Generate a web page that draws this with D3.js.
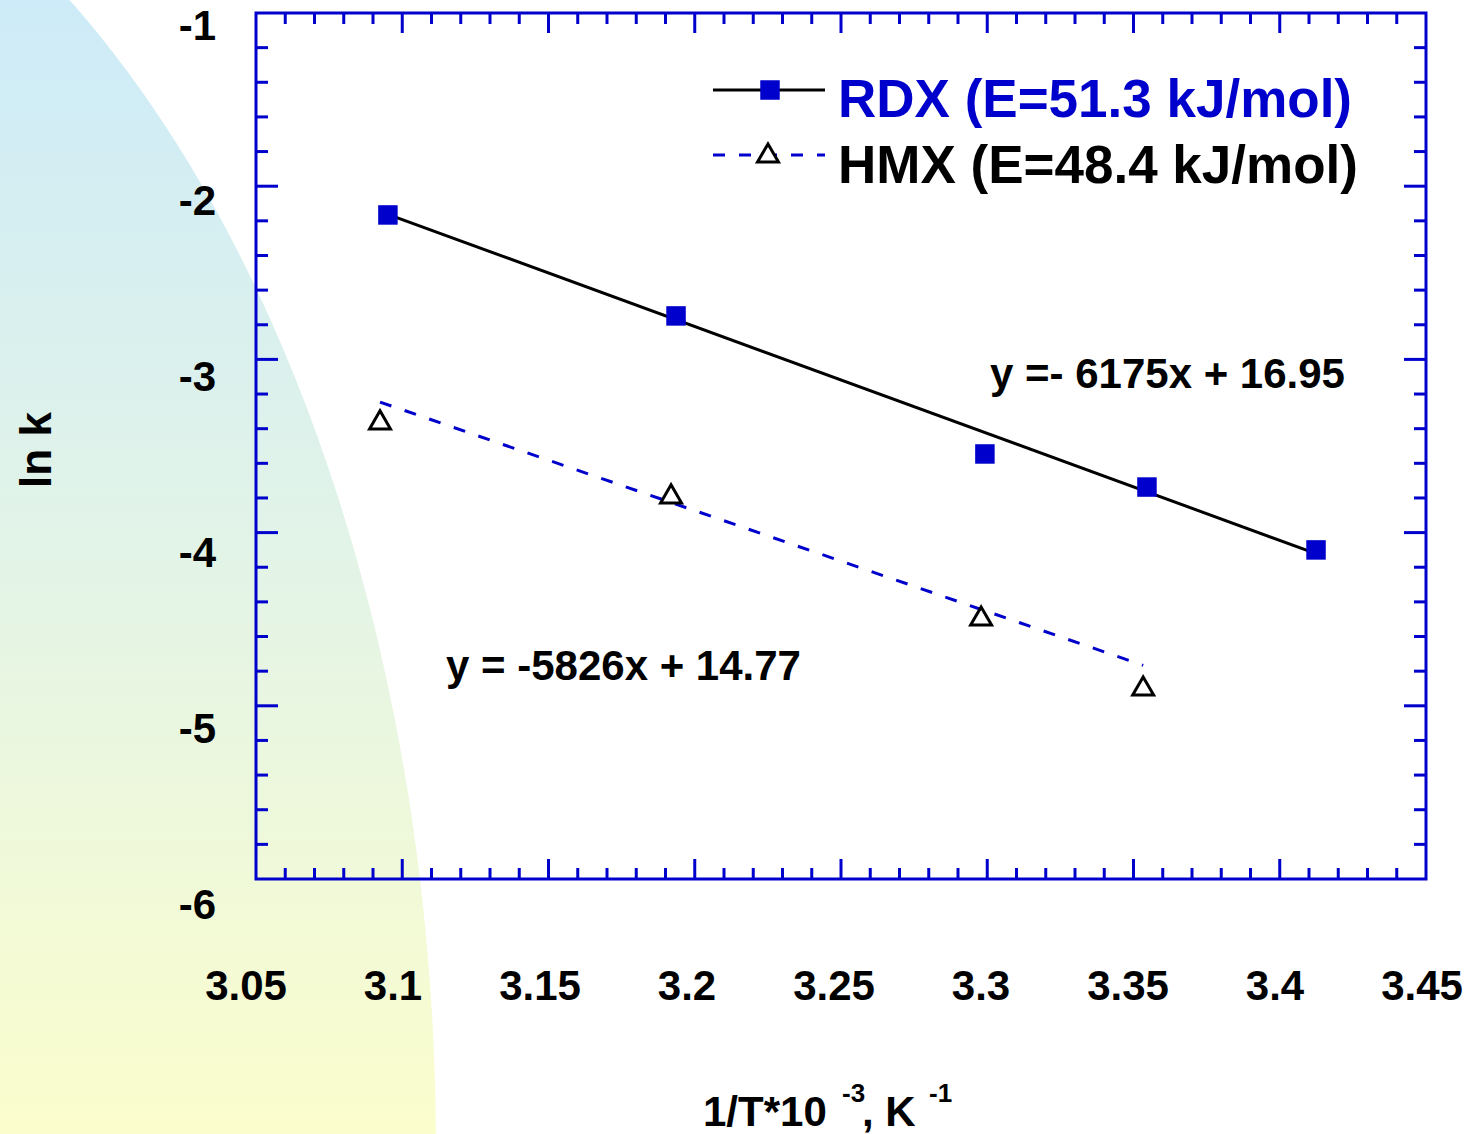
<!DOCTYPE html>
<html>
<head>
<meta charset="utf-8">
<script src="https://cdn.jsdelivr.net/npm/d3@7"></script>
<style>
  body { margin: 0; background: #fff; }
  text { font-family: Arial, "Liberation Sans", sans-serif; font-weight: bold; }
</style>
</head>
<body>
<div id="chart"></div>
<script>
// data (x = 1/T * 10^3)
var rdxX = [3.0951, 3.1936, 3.2992, 3.3546, 3.4124];
var rdxY = [-2.166, -2.749, -3.546, -3.737, -4.100];
var hmxX = [3.0924, 3.1919, 3.2979, 3.3533];
var hmxY = [-3.367, -3.794, -4.499, -4.903];

// linear fits (slope per 1e-3 unit, intercept)
var rdxFit = [-6.175, 16.95];
var hmxFit = [-5.826, 14.77];

var seriesNames = ["RDX (E=51.3 kJ/mol)", "HMX (E=48.4 kJ/mol)"];
var fitLabels = ["y =- 6175x + 16.95", "y = -5826x + 14.77"];

var xTicks = [3.05, 3.1, 3.15, 3.2, 3.25, 3.3, 3.35, 3.4, 3.45];
var yTicks = [-1, -2, -3, -4, -5, -6];

var W = 1468, H = 1134;
var blue = "#0000cc";

var svg = d3.select("#chart").append("svg")
    .attr("width", W)
    .attr("height", H);

// background swoosh
var defs = svg.append("defs");
var grad = defs.append("linearGradient")
    .attr("id", "bg")
    .attr("gradientUnits", "userSpaceOnUse")
    .attr("x1", 0).attr("y1", 0).attr("x2", 0).attr("y2", H);
grad.append("stop").attr("offset", "0%").attr("stop-color", "#cdebf8");
grad.append("stop").attr("offset", "50%").attr("stop-color", "#e3f4e7");
grad.append("stop").attr("offset", "100%").attr("stop-color", "#fbfdcc");

svg.append("ellipse")
    .attr("cx", -400).attr("cy", 1150)
    .attr("rx", 836).attr("ry", 1390)
    .attr("fill", "url(#bg)");

// Scales
var x = d3.scaleLinear().domain([3.05, 3.45]).range([256, 1426]);
var y = d3.scaleLinear().domain([-1, -6]).range([13, 879]);

// tick labels sit slightly off the tick marks in the original
var xLab = d3.scaleLinear().domain([3.05, 3.45]).range([246, 1422]);
var yLab = d3.scaleLinear().domain([-1, -6]).range([25.5, 905]);

var pLeft = x.range()[0], pRight = x.range()[1],
    pTop = y.range()[0], pBottom = y.range()[1];

var minorX = d3.range(0, 41).map(function(i) { return 3.05 + i * 0.01; });
var minorY = d3.range(0, 26).map(function(i) { return -1 - i * 0.2; });

var axes = svg.append("g").attr("class", "axes");

function isMajorX(v) { return Math.abs(Math.round(v * 20) - v * 20) < 1e-6; }
function isMajorY(v) { return Math.abs(Math.round(v) - v) < 1e-6; }

// ticks along bottom and top (inward)
minorX.forEach(function(v) {
    if (Math.abs(v - 3.05) < 1e-6 || Math.abs(v - 3.45) < 1e-6) return;
    var len = isMajorX(v) ? 20 : 11;
    axes.append("line")
        .attr("x1", x(v)).attr("x2", x(v))
        .attr("y1", pBottom).attr("y2", pBottom - len);
    axes.append("line")
        .attr("x1", x(v)).attr("x2", x(v))
        .attr("y1", pTop).attr("y2", pTop + len);
});
// ticks along left and right
minorY.forEach(function(v) {
    if (Math.abs(v + 1) < 1e-6 || Math.abs(v + 6) < 1e-6) return;
    var len = isMajorY(v) ? 22 : 12;
    axes.append("line")
        .attr("x1", pLeft).attr("x2", pLeft + len)
        .attr("y1", y(v)).attr("y2", y(v));
    axes.append("line")
        .attr("x1", pRight).attr("x2", pRight - len)
        .attr("y1", y(v)).attr("y2", y(v));
});
axes.append("rect")
    .attr("x", pLeft).attr("y", pTop)
    .attr("width", pRight - pLeft).attr("height", pBottom - pTop)
    .attr("fill", "none");
axes.selectAll("line, rect")
    .attr("stroke", blue)
    .attr("stroke-width", 3);

// tick labels
svg.append("g").selectAll("text")
    .data(xTicks)
    .enter().append("text")
    .attr("x", function(d) { return xLab(d); })
    .attr("y", 1000)
    .attr("text-anchor", "middle")
    .attr("font-size", 42)
    .attr("fill", "#000")
    .text(function(d) { return d3.format("")(d); });

svg.append("g").selectAll("text")
    .data(yTicks)
    .enter().append("text")
    .attr("x", 216)
    .attr("y", function(d) { return yLab(d) + 14; })
    .attr("text-anchor", "end")
    .attr("font-size", 42)
    .attr("fill", "#000")
    .text(function(d) { return d; });

// axis titles
var xt = svg.append("text")
    .attr("x", 703).attr("y", 1126)
    .attr("font-size", 42)
    .attr("fill", "#000");
xt.append("tspan").text("1/T*10");
xt.append("tspan").attr("x", 842).attr("y", 1102).attr("font-size", 26).text("-3");
xt.append("tspan").attr("x", 862).attr("y", 1126).text(", K");
xt.append("tspan").attr("x", 929).attr("y", 1102).attr("font-size", 26).text("-1");

svg.append("text")
    .attr("transform", "translate(51,450) rotate(-90)")
    .attr("text-anchor", "middle")
    .attr("font-size", 44)
    .attr("fill", "#000")
    .text("ln k");

// fit lines
function fitPoints(xs, fit) {
    var x0 = d3.min(xs), x1 = d3.max(xs);
    return [[x0, fit[0] * x0 + fit[1]], [x1, fit[0] * x1 + fit[1]]];
}
var line = d3.line()
    .x(function(d) { return x(d[0]); })
    .y(function(d) { return y(d[1]); });

svg.append("path")
    .attr("d", line(fitPoints(rdxX, rdxFit)))
    .attr("stroke", "#000")
    .attr("stroke-width", 3)
    .attr("fill", "none");

svg.append("path")
    .attr("d", line(fitPoints(hmxX, hmxFit)))
    .attr("stroke", blue)
    .attr("stroke-width", 3)
    .attr("stroke-dasharray", "12,14")
    .attr("fill", "none");

// markers
var square = d3.symbol().type(d3.symbolSquare).size(380);
var triangle = d3.symbol().type(d3.symbolTriangle).size(190);

svg.append("g").selectAll("path")
    .data(rdxX)
    .enter().append("path")
    .attr("d", square)
    .attr("transform", function(d, i) { return "translate(" + x(d) + "," + y(rdxY[i]) + ")"; })
    .attr("fill", blue);

svg.append("g").selectAll("path")
    .data(hmxX)
    .enter().append("path")
    .attr("d", triangle)
    .attr("transform", function(d, i) { return "translate(" + x(d) + "," + y(hmxY[i]) + ")"; })
    .attr("fill", "none")
    .attr("stroke", "#000")
    .attr("stroke-width", 3);

// fit labels
svg.append("text")
    .attr("x", 990).attr("y", 388)
    .attr("font-size", 42)
    .attr("fill", "#000")
    .text(fitLabels[0]);
svg.append("text")
    .attr("x", 446).attr("y", 680)
    .attr("font-size", 42)
    .attr("fill", "#000")
    .text(fitLabels[1]);

// legend
var legend = svg.append("g");
legend.append("line")
    .attr("x1", 713).attr("x2", 825).attr("y1", 90).attr("y2", 90)
    .attr("stroke", "#000").attr("stroke-width", 3);
legend.append("path")
    .attr("d", square)
    .attr("transform", "translate(770,90)")
    .attr("fill", blue);
legend.append("text")
    .attr("x", 838).attr("y", 117)
    .attr("font-size", 53)
    .attr("fill", blue)
    .text(seriesNames[0]);

legend.append("line")
    .attr("x1", 713).attr("x2", 825).attr("y1", 155).attr("y2", 155)
    .attr("stroke", blue).attr("stroke-width", 3)
    .attr("stroke-dasharray", "12,14");
legend.append("path")
    .attr("d", triangle)
    .attr("transform", "translate(768,156)")
    .attr("fill", "#fff")
    .attr("stroke", "#000").attr("stroke-width", 3);
legend.append("text")
    .attr("x", 838).attr("y", 183)
    .attr("font-size", 53)
    .attr("fill", "#000")
    .text(seriesNames[1]);
</script>
</body>
</html>
